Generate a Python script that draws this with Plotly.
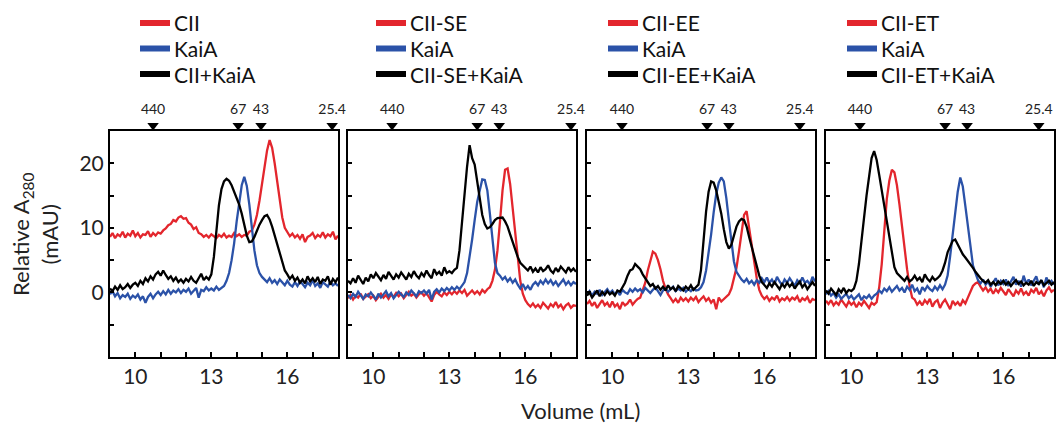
import plotly.graph_objects as go

# ---------------- data ----------------
VOLUME = [
    9.0, 9.1, 9.2, 9.3, 9.4, 9.5, 9.6, 9.7, 9.8, 9.9,
    10.0, 10.1, 10.2, 10.3, 10.4, 10.5, 10.6, 10.7, 10.8, 10.9,
    11.0, 11.1, 11.2, 11.3, 11.4, 11.5, 11.6, 11.7, 11.8, 11.9,
    12.0, 12.1, 12.2, 12.3, 12.4, 12.5, 12.6, 12.7, 12.8, 12.9,
    13.0, 13.1, 13.2, 13.3, 13.4, 13.5, 13.6, 13.7, 13.8, 13.9,
    14.0, 14.1, 14.2, 14.3, 14.4, 14.5, 14.6, 14.7, 14.8, 14.9,
    15.0, 15.1, 15.2, 15.3, 15.4, 15.5, 15.6, 15.7, 15.8, 15.9,
    16.0, 16.1, 16.2, 16.3, 16.4, 16.5, 16.6, 16.7, 16.8, 16.9,
    17.0, 17.1, 17.2, 17.3, 17.4, 17.5, 17.6, 17.7, 17.8, 17.9,
    18.0,
]

# Panel 1: CII
P1_RED = [
    8.6, 9.2, 8.4, 9.0, 8.7, 9.4, 8.5, 9.1, 8.8, 9.6,
    8.7, 9.2, 8.5, 9.0, 8.9, 9.5, 8.6, 9.2, 8.8, 9.3,
    9.1, 9.6, 9.9, 10.4, 10.6, 11.2, 11.0, 11.6, 11.8, 11.4,
    11.5, 10.8, 10.5, 9.8, 10.1, 9.2, 9.0, 8.6, 8.9, 8.5,
    9.0, 8.7, 8.4, 8.9, 8.6, 9.1, 8.5, 8.8, 8.6, 9.2,
    8.7, 9.0, 8.6, 8.9, 8.8, 9.4, 9.6, 10.5, 12.0, 14.2,
    16.8, 19.6, 22.0, 23.6, 22.4, 20.0, 17.0, 14.0, 11.6, 10.0,
    9.3, 8.7, 9.1, 8.5, 8.9, 8.3, 9.0, 7.8, 8.6, 8.8,
    9.2, 8.4, 8.9, 8.6, 9.3, 8.5, 9.0, 8.7, 9.4, 8.2,
    8.8,
]
P1_BLUE = [
    -0.3, 0.2, -0.6, -0.1, -0.9, -0.4, -0.7, -0.2, -1.0, -0.5,
    -0.8, -0.3, -1.1, -0.6, -1.6, -0.7, -0.2, -0.9, -0.3, 0.1,
    -0.4, 0.2, -0.3, 0.4, -0.2, 0.3, 0.0, 0.5, -0.1, 0.4,
    0.1, 0.6, -0.2, 0.3, 0.7, -0.8, 0.4, 0.2, 0.8, 0.3,
    0.6, 0.3, 0.9, 0.4, 0.7, 1.0, 1.8, 3.0, 5.0, 7.6,
    11.0, 14.2, 16.6, 17.9, 16.5, 13.6, 10.0, 6.5, 4.2, 3.0,
    2.4, 2.0, 1.6, 2.2, 1.5, 1.9, 1.3, 2.0, 1.6, 1.1,
    1.8, 1.2, 0.9, 1.6, 1.0, 1.7, 1.3, 0.8, 1.5, 1.1,
    1.9, 1.0, 1.4, 0.7, 1.6, 1.2, 0.9, 1.7, 1.1, 1.4,
    1.0,
]
P1_BLACK = [
    0.6, 0.2, 0.9, 0.4, 1.1, 0.5, 0.8, 1.3, 0.7, 1.2,
    1.5, 1.0, 1.8, 1.3, 2.2, 1.7, 2.5, 2.0, 2.8, 3.2,
    2.6, 3.4, 2.7, 2.1, 2.5, 1.8, 2.3, 1.6, 2.0, 1.5,
    2.1, 1.7, 2.4, 1.8, 1.5, 2.2, 2.9, 1.9, 2.4, 2.0,
    2.8, 5.5, 10.0, 13.5, 16.0, 17.2, 17.6, 17.3, 16.6, 15.6,
    14.6, 13.6, 12.2, 10.4, 8.8, 7.8, 7.9, 8.6, 9.6, 10.5,
    11.2, 11.8, 12.0, 11.3, 10.2, 8.8, 7.4, 5.8, 4.6, 3.4,
    2.8, 2.1, 2.6, 1.8, 2.3, 1.5, 2.0, 1.4, 2.5, 1.7,
    2.2, 1.6, 2.4, 1.3, 2.0, 1.8, 2.5, 1.2, 2.1, 1.6,
    2.3,
]

# Panel 2: CII-SE
P2_RED = [
    -0.9, -0.4, -1.1, -0.5, -0.8, -0.2, -1.0, -0.6, -0.3, -0.9,
    -0.5, -1.2, -0.6, -0.2, -0.8, -0.4, -1.0, -0.3, -0.7, -0.1,
    -0.6, -0.2, -0.9, -0.4, 0.1, -0.5, -0.2, -0.8, -0.3, 0.0,
    -0.5, -0.1, -0.7, -1.4, -0.4, 0.1, -0.3, -0.6, 0.0, -0.4,
    0.1, -0.3, 0.2, -0.2, 0.3, -0.1, 0.4, -0.5, -0.1, 0.3,
    -0.2, 0.2, -0.3, 0.4, 0.0, 0.5, 0.8, 1.8, 3.5, 6.5,
    11.0, 15.8, 19.0, 19.2, 16.8, 13.0, 9.0, 4.8, 1.8, -0.2,
    -1.2, -1.8, -2.2, -1.7, -2.3, -1.9, -2.4, -1.6, -2.1, -2.5,
    -1.8, -2.2, -1.5, -2.3, -1.9, -2.6, -2.0, -1.7, -2.4, -2.0,
    -2.1,
]
P2_BLUE = [
    -0.4, -0.9, -0.2, -0.7, 0.1, -0.5, -1.0, -0.3, -0.6, 0.0,
    -0.5, -1.1, -0.2, -0.8, -0.3, 0.2, -0.6, -0.1, -0.9, -0.4,
    0.1, -0.3, -0.7, 0.0, -0.4, 0.3, -0.2, -0.6, 0.2, -0.1,
    0.3, -0.2, 0.4, -1.1, 0.1, 0.5, 0.0, 0.6, 0.2, 0.7,
    0.3, 0.8, 0.4, 0.9, 0.5, 1.1, 1.6, 3.0, 5.4, 8.2,
    11.2, 14.0, 15.8, 17.5, 17.4, 15.8, 12.2, 8.0, 4.6, 3.0,
    2.6, 2.0, 2.4, 1.7, 2.2, 1.5, 2.0, 1.2, 0.6, 1.3,
    0.5, 1.0, 0.4, 1.2, 1.6, 1.1, 1.8, 1.3, 2.0, 1.4,
    1.9, 1.2, 1.7, 1.0, 1.5, 2.0, 1.2, 1.7, 1.1, 1.6,
    1.3,
]
P2_BLACK = [
    1.8, 1.4, 2.2, 1.5, 2.6, 1.9, 1.3, 2.3, 1.7, 2.8,
    2.2, 3.0, 2.4, 1.9, 2.7, 2.1, 3.2, 2.5, 2.0, 2.8,
    2.3, 3.1, 2.6, 2.0, 2.9, 2.4, 3.3, 2.6, 2.2, 3.0,
    2.5, 3.4, 2.7, 2.2, 3.6, 2.8, 3.2, 2.6, 3.9, 3.0,
    3.3, 3.0, 3.5, 3.8, 6.5, 11.0, 16.0, 19.5, 22.8, 20.8,
    19.8, 17.5, 14.6, 12.0, 10.6, 9.9, 10.1, 10.6, 11.2, 11.5,
    11.6, 11.6, 11.0, 10.2, 9.0, 7.8, 6.6, 5.5, 4.6, 4.2,
    3.8, 3.4, 4.0, 3.2, 3.7, 3.1, 3.9, 3.3, 3.6, 4.2,
    3.4, 3.0, 3.8, 3.2, 4.0, 3.5, 3.1, 3.9, 3.3, 3.7,
    3.2,
]

# Panel 3: CII-EE
P3_RED = [
    -1.8, -1.3, -2.1, -1.5, -2.4, -1.7, -1.2, -2.0, -1.6, -2.3,
    -1.4, -2.2, -1.8, -2.6, -1.5, -2.0, -1.7, -1.1, -1.9, -1.4,
    -1.0, -0.8, 0.2, 1.5, 3.4, 5.0, 6.3, 6.0, 5.0, 3.6,
    1.8, 0.6, -0.3, -0.9, -1.5, -1.0, -1.6, -0.8, -1.3, -0.9,
    -1.4, -0.8, -1.2, -0.7, -1.5, -1.0, -0.6, -1.3, -0.9, -1.6,
    -1.1, -2.6, -0.8, -1.4, -1.0, -0.6, -0.3, 0.6, 2.0, 3.8,
    6.4, 9.2, 12.0, 12.6, 10.0, 7.5, 4.6, 2.2, 0.4, -0.5,
    -1.0, -0.6, -1.3, -0.8, -1.1, -0.5, -1.4, -0.9, -1.2, -0.7,
    -1.3, -0.8, -1.1, -0.6, -1.5, -0.9, -1.2, -0.7, -1.6, -1.0,
    -1.2,
]
P3_BLUE = [
    -0.3, 0.2, -0.5, 0.1, -0.2, 0.4, -0.4, 0.0, 0.5, -0.1,
    0.3, -0.3, 0.2, -0.4, 0.4, 0.0, -0.2, 0.5, 0.1, 0.6,
    0.2, 0.5, 0.0, 0.7, 0.3, -0.1, 0.4, 0.8, 0.2, -0.4,
    0.3, 0.6, 0.1, 0.5, 0.9, 0.2, 0.6, 0.3, 0.7, 0.1,
    0.5, 0.2, 0.6, 0.3, 0.4, 0.8, 1.6, 3.4, 6.0, 9.0,
    12.4, 15.2, 17.0, 17.8, 17.2, 14.6, 11.2, 7.6, 4.8, 3.2,
    2.5, 2.0, 1.6, 2.1, 1.4, 1.8, 1.2, 1.9, 1.5, 2.2,
    1.6, 2.3, 1.5, 2.0, 1.3, 2.4, 1.7, 1.1, 2.0, 1.5,
    2.2, 1.6, 1.0, 1.9, 1.4, 2.3, 1.5, 1.8, 1.2, 2.4,
    1.7,
]
P3_BLACK = [
    -0.5, 0.0, -0.8, -0.2, 0.3, -0.6, 0.1, -0.4, 0.2, -0.3,
    0.0, -0.5, 0.3, 0.1, 0.7, 1.5, 2.6, 3.4, 3.6, 4.4,
    4.0, 3.6, 2.8, 2.2, 1.6, 1.0, 1.3, 0.6, 1.0, 0.4,
    0.9, 0.3, 1.1, 0.5, 0.8, 0.2, 1.0, 0.6, 0.3, 0.9,
    0.5, 1.1, 0.4, 0.8, 1.2, 3.5, 8.0, 12.5, 15.6, 17.2,
    17.0, 15.8, 14.0, 12.2, 9.8, 7.8, 6.8, 7.4, 8.8, 10.2,
    11.0, 11.4, 11.2, 10.2, 8.6, 7.0, 5.4, 3.8, 2.6, 1.6,
    1.2, 0.7, 1.4, 0.9, 1.6, 1.0, 0.5, 1.3, 0.8, 1.5,
    0.9, 1.4, 0.6, 1.2, 1.7, 0.8, 1.3, 0.5, 1.1, 1.6,
    1.0,
]

# Panel 4: CII-ET
P4_RED = [
    -1.3, -1.8, -1.2, -2.0, -1.5, -1.9, -1.1, -1.7, -2.2, -1.4,
    -1.9, -1.5, -2.3, -1.6, -2.0, -1.3, -1.8, -2.4, -1.6, -1.9,
    -1.5, 0.8, 4.4, 9.5, 14.5, 17.3, 19.0, 18.6, 16.6, 13.6,
    10.0, 7.0, 3.6, 1.0, -0.8, -1.1, -1.9, -1.4, -2.0, -1.2,
    -1.7, -1.0, -2.2, -1.5, -1.2, -2.4, -1.6, -1.1, -1.8, -2.6,
    -1.3, -1.9, -1.5, -2.1, -1.2, -1.7, -0.8, 0.2, 1.0, 1.4,
    1.6, 0.9, 0.3, 0.8, 0.1, 0.6, -0.2, 0.5, 0.0, 0.7,
    0.2, -0.4, 0.5, 0.0, -0.6, 0.3, -0.2, 0.6, -0.3, 0.1,
    -0.5, 0.4, 0.0, 0.7, -0.3, 0.2, -0.6, 0.3, 0.8, 0.1,
    0.4,
]
P4_BLUE = [
    -0.3, 0.2, -0.5, -0.1, -0.8, -0.3, -1.0, -0.6, -0.2, -0.9,
    -0.5, -1.1, -0.7, -0.3, -1.2, -0.6, -0.9, -0.4, -1.0, -0.5,
    -0.2, 0.3, -0.1, 0.6, 0.2, 0.8, 0.1, 0.5, 1.0, 0.3,
    0.7, 0.0, 0.9, 0.4, 1.2, 0.2, 0.6, -0.3, 0.8, 0.3,
    1.0, 0.5, 0.2, 0.9, 0.4, 1.1, 0.5, 1.2, 2.6, 5.6,
    9.0, 12.8, 15.6, 17.8, 16.4, 13.4, 10.0, 6.6, 4.2, 3.0,
    1.9, 1.4, 2.0, 1.2, 1.7, 0.9, 1.5, 2.2, 1.1, 1.8,
    1.3, 2.0, 1.0, 1.7, 2.4, 1.2, 1.8, 0.9, 2.6, 1.4,
    2.0, 1.1, 1.7, 2.5, 1.2, 1.9, 0.8, 2.3, 1.4, 1.8,
    1.2,
]
P4_BLACK = [
    0.3, -0.2, 0.6, 0.1, -0.4, 0.5, 0.0, 0.7, -0.1, 0.4,
    0.2, 0.6, 1.8, 4.4, 7.5, 11.5, 15.0, 18.2, 20.8, 21.9,
    20.5, 18.2, 15.8, 13.1, 11.0, 8.4, 5.8, 3.9, 3.0, 2.6,
    2.2, 1.8, 2.4, 1.7, 2.0, 2.6, 1.9, 2.3, 1.6, 2.8,
    2.1, 1.7, 2.4, 1.9, 2.2, 2.6, 3.4, 4.6, 6.2, 7.2,
    8.0, 8.2, 7.4, 6.8, 5.9, 5.4, 4.9, 4.4, 3.8, 3.2,
    2.6, 2.2, 1.8, 1.5, 1.9, 1.2, 1.6, 1.1, 1.7, 1.3,
    1.8, 1.2, 1.6, 1.0, 1.5, 1.9, 1.3, 1.7, 1.1, 1.5,
    1.2, 1.8, 1.0, 1.6, 1.3, 1.9, 1.1, 1.5, 1.8, 1.2,
    1.6,
]

SAMPLE_NAMES = ["CII", "CII-SE", "CII-EE", "CII-ET"]
RED_SERIES = [P1_RED, P2_RED, P3_RED, P4_RED]
BLUE_SERIES = [P1_BLUE, P2_BLUE, P3_BLUE, P4_BLUE]
BLACK_SERIES = [P1_BLACK, P2_BLACK, P3_BLACK, P4_BLACK]

# molecular-weight standards (kDa) and their elution volumes (mL) per panel
STANDARD_LABELS = ["440", "67", "43", "25.4"]
STANDARD_POS = [
    [10.7, 14.06, 14.96, 17.77],
    [10.74, 14.1, 14.97, 17.8],
    [10.38, 13.74, 14.6, 17.4],
    [10.34, 13.7, 14.57, 17.4],
]

X_TICKS = [10, 11, 12, 13, 14, 15, 16, 17]
X_TICK_TEXT = ["10", "", "", "13", "", "", "16", ""]
Y_TICKS = [-5, 0, 5, 10, 15, 20]
Y_TICK_TEXT = ["", "0", "", "10", "", "20"]

# ---------------- styling ----------------
W, H = 1057, 424
FONT = "Lato"
RED = "#e3262d"
BLUE = "#2b52a8"
BLACK = "#000000"
PANEL_PX = [(110, 338), (348, 576), (587, 815), (826, 1054)]
TOP_PX, BOT_PX = 131, 357
MARK_TOP_PX = 98
LEG_SWATCH_PX = [140, 376, 608, 847]
LEG_ROWS_PX = [23, 48.5, 74]

fig = go.Figure()
shapes = []
annotations = []

for k in range(4):
    sfx = "" if k == 0 else str(k + 1)
    xa, ya = "x" + sfx, "y" + sfx
    ym = "y" + str(k + 5)
    name = SAMPLE_NAMES[k]
    for series, col in ((RED_SERIES[k], RED), (BLUE_SERIES[k], BLUE), (BLACK_SERIES[k], BLACK)):
        fig.add_trace(go.Scatter(x=VOLUME, y=series, mode="lines",
                                 line=dict(color=col, width=2.3),
                                 xaxis=xa, yaxis=ya, showlegend=False, hoverinfo="skip"))
    # standards markers above the panel (on a strip axis sharing the panel's x)
    fig.add_trace(go.Scatter(x=STANDARD_POS[k], y=[0.17] * 4, mode="markers",
                             marker=dict(symbol="triangle-down", size=10, color="black",
                                         line=dict(width=0)),
                             xaxis=xa, yaxis=ym, showlegend=False, hoverinfo="skip",
                             cliponaxis=False))
    fig.add_trace(go.Scatter(x=STANDARD_POS[k], y=[0.62] * 4, mode="text",
                             text=STANDARD_LABELS, textposition="middle center",
                             textfont=dict(family=FONT, size=14, color="#222"),
                             xaxis=xa, yaxis=ym, showlegend=False, hoverinfo="skip",
                             cliponaxis=False))

    x0, x1 = PANEL_PX[k]
    fig.update_layout({
        "xaxis" + sfx: dict(domain=[x0 / W, x1 / W], range=[9, 18], anchor=ya,
                            tickvals=X_TICKS, ticktext=X_TICK_TEXT, ticks="inside",
                            ticklen=5, tickwidth=1.5, tickcolor="black",
                            showline=True, linewidth=2, linecolor="black", mirror=True,
                            showgrid=False, zeroline=False,
                            tickfont=dict(family=FONT, size=21, color="#222")),
        "yaxis" + sfx: dict(domain=[(H - BOT_PX) / H, (H - TOP_PX) / H], range=[-10, 25],
                            anchor=xa, tickvals=Y_TICKS, ticktext=Y_TICK_TEXT,
                            ticks="inside", ticklen=4, tickwidth=1.5, tickcolor="black",
                            showticklabels=(k == 0),
                            showline=True, linewidth=2, linecolor="black", mirror=True,
                            showgrid=False, zeroline=False,
                            tickfont=dict(family=FONT, size=21, color="#222")),
        "yaxis" + str(k + 5): dict(domain=[(H - TOP_PX) / H, (H - MARK_TOP_PX) / H],
                                   range=[0, 1], anchor=xa, visible=False,
                                   showgrid=False, zeroline=False),
    })

    # legend block above each panel: swatch + label
    sx = LEG_SWATCH_PX[k]
    for row, (lab, col) in enumerate(((name, RED), ("KaiA", BLUE), (name + "+KaiA", BLACK))):
        yy = (H - LEG_ROWS_PX[row]) / H
        shapes.append(dict(type="line", xref="paper", yref="paper",
                           x0=sx / W, x1=(sx + 30) / W, y0=yy, y1=yy,
                           line=dict(color=col, width=6)))
        annotations.append(dict(text=lab, x=(sx + 32) / W, y=yy, xref="paper", yref="paper",
                                xanchor="left", yanchor="middle", showarrow=False,
                                font=dict(family=FONT, size=21, color="#111")))

annotations.append(dict(text="Relative A<sub>280</sub><br>(mAU)", textangle=-90,
                        x=35 / W, y=(H - 234) / H, xref="paper", yref="paper",
                        xanchor="center", yanchor="middle",
                        showarrow=False, font=dict(family=FONT, size=22, color="#222")))
annotations.append(dict(text="Volume (mL)", x=580 / W, y=(H - 410) / H,
                        xref="paper", yref="paper", xanchor="center", yanchor="middle",
                        showarrow=False, font=dict(family=FONT, size=22, color="#222")))

fig.update_layout(width=W, height=H, margin=dict(l=0, r=0, t=0, b=0),
                  paper_bgcolor="white", plot_bgcolor="white",
                  font=dict(family=FONT), showlegend=False,
                  shapes=shapes, annotations=annotations)

fig.write_html("out.html")
